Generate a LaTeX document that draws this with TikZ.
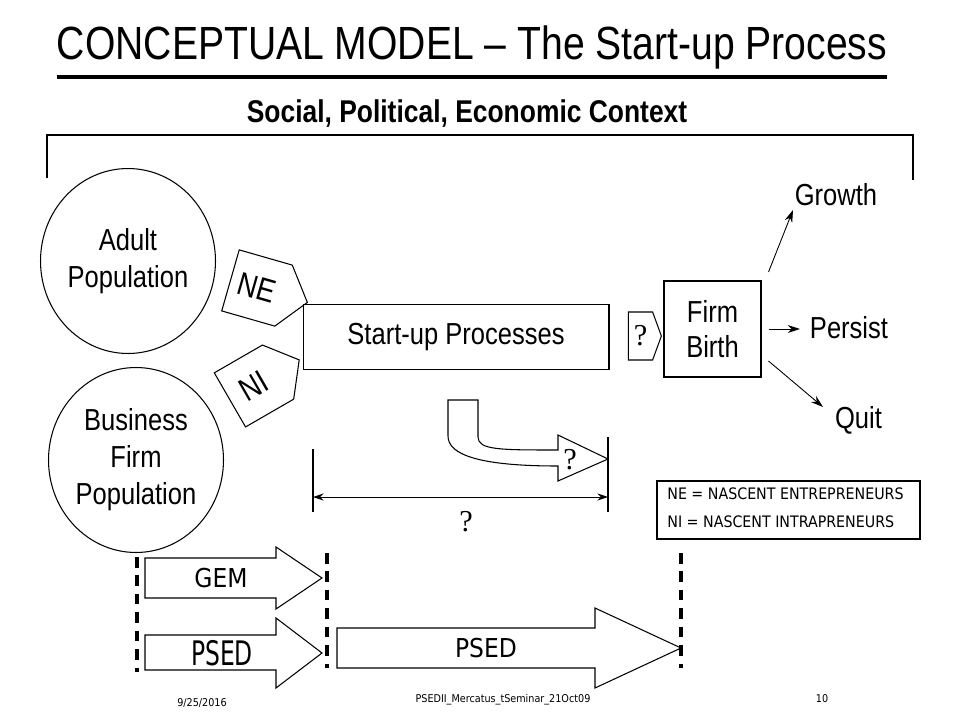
\documentclass[tikz,border=0pt]{standalone}
\usepackage{fontspec}
\usepackage{graphicx}
\setmainfont[FakeStretch=0.84]{Liberation Sans}
\newfontfamily\tahomafont{DejaVu Sans Condensed}
\newfontfamily\qmarkfont{Liberation Serif}
\usetikzlibrary{shapes.geometric,shapes.symbols,arrows.meta}

\tikzset{
  body/.style={font=\fontsize{17.3}{21}\selectfont,align=center,inner sep=0pt},
  popcircle/.style={draw,ellipse,line width=0.6pt,minimum width=3.5cm,minimum height=3.7cm,body},
  tagbox/.style={draw,signal,signal to=east,line width=0.6pt,body},
  procbox/.style={draw,rectangle,line width=0.6pt,body},
  outcome/.style={body,anchor=base},
  qmark/.style={font=\qmarkfont\fontsize{17.3}{21}\selectfont,inner sep=0pt},
  arr/.style={-{Stealth[length=7pt,width=4.5pt]},line width=0.5pt},
  fatarrow/.style={draw,line width=0.6pt},
  fattext/.style={font=\tahomafont\fontsize{14.8}{17}\selectfont,inner sep=0pt},
  lane/.style={line width=1.8pt,dash pattern=on 6pt off 4.5pt},
  legendtext/.style={font=\tahomafont\fontsize{9}{11}\selectfont,anchor=base west,inner sep=0pt},
  small/.style={font=\tahomafont\fontsize{6.1}{7}\selectfont,anchor=base,inner sep=0pt},
}

\begin{document}
\begin{tikzpicture}[x=0.02cm,y=-0.02cm]
\path[use as bounding box] (0,0) rectangle (960,720);
% heading
\node[font=\fontsize{26.5}{30}\selectfont,anchor=base,inner sep=0pt] (title) at (472,59) {CONCEPTUAL MODEL – The Start-up Process};
\draw[line width=2.2pt] ([yshift=-0.36cm]title.base west) -- ([yshift=-0.36cm]title.base east);
\node[font=\bfseries\fontsize{17.9}{21}\selectfont,anchor=base,inner sep=0pt] (context) at (467,122) {Social, Political, Economic Context};
\draw[line width=0.6pt] (47,178) -- (47,135) -- (913,135) -- (913,180);
% populations
\node[popcircle] (adult) at (128,261) {Adult\\Population};
\node[popcircle] (firmpop) at (136,460) {Business\\Firm\\Population};
\node[tagbox,rotate=-16,minimum width=1.6cm,minimum height=1.27cm,signal pointer angle=104,font=\fontsize{18.5}{21}\selectfont] (ne) at (257,288) {NE};
\node[tagbox,rotate=30,minimum width=1.6cm,minimum height=1.25cm,signal pointer angle=104,font=\fontsize{18.5}{21}\selectfont] (ni) at (254,386) {NI};
% process
\node[procbox,minimum width=6.12cm,minimum height=1.3cm] (startup) at (456,337) {Start-up Processes};
\node[tagbox,signal pointer angle=140,minimum width=0.66cm,minimum height=0.96cm,font=\qmarkfont\fontsize{17.3}{21}\selectfont] (gap) at (640.5,336) {?};
\node[procbox,minimum width=1.94cm,minimum height=1.92cm,font=\fontsize{17.3}{20}\selectfont] (birth) at (712.5,329) {Firm\\Birth};
% outcomes
\node[outcome] (growth) at (836,205) {Growth};
\node[outcome] (persist) at (849,338) {Persist};
\node[outcome] (quit) at (858.5,428) {Quit};
\coordinate (growthtip) at (793,210);
\coordinate (persisttip) at (800,329);
\coordinate (quittip) at (823,407);
\draw[arr] ([shift={(7,-57)}]birth.east) -- (growthtip);
\draw[arr] ([shift={(7,0)}]birth.east) -- (persisttip);
\draw[arr] ([shift={(7,32)}]birth.east) -- (quittip);
% lag
\draw[fatarrow] (448,400) -- (478,400) -- (478,437) .. controls (478,450) and (500,450) .. (558,450) -- (558,435) -- (608,459) -- (558,481) -- (558,466) .. controls (480,466) and (448,455) .. (448,436) -- cycle;
\node[qmark] (lagq) at (570,460) {?};
\coordinate (spanL) at (313,449);
\coordinate (spanR) at (608,437);
\coordinate (spanA) at (313,497);
\coordinate (spanB) at (608,497);
\draw[line width=0.6pt] (spanL) -- ++(0,63);
\draw[line width=0.6pt] (spanR) -- ++(0,75);
\draw[{Stealth[length=6pt,width=4pt]}-{Stealth[length=6pt,width=4pt]},line width=0.5pt] (spanA) -- (spanB);
\node[qmark] (spanq) at (466,522) {?};
% legend
\draw[line width=0.6pt] (657,481) rectangle (920,539);
\node[legendtext] (legne) at (667,499) {NE = NASCENT ENTREPRENEURS};
\node[legendtext] (legni) at (667,527) {NI = NASCENT INTRAPRENEURS};
% surveys
\draw[lane] (137,557) -- (137,672);
\draw[lane] (327,553) -- (327,668);
\draw[lane] (681,553) -- (681,668);
\draw[fatarrow] (145,558) -- (276,558) -- (276,547) -- (322,578) -- (276,609) -- (276,598) -- (145,598) -- cycle;
\node[fattext] (gem) at (221,578) {GEM};
\draw[fatarrow] (145,635) -- (276,635) -- (276,618) -- (322,653) -- (276,688) -- (276,670) -- (145,670) -- cycle;
\node[fattext] (pseda) at (222,653) {\scalebox{1}[1.3]{PSED}};
\draw[fatarrow] (337,628) -- (595,628) -- (595,608) -- (681,648) -- (595,688) -- (595,668) -- (337,668) -- cycle;
\node[fattext] (psedb) at (486,648) {PSED};
% footer
\node[small] (date) at (202,706) {9/25/2016};
\node[small] (deck) at (503,702) {PSEDII\_Mercatus\_tSeminar\_21Oct09};
\node[small] (page) at (822,702) {10};
\end{tikzpicture}
\end{document}
